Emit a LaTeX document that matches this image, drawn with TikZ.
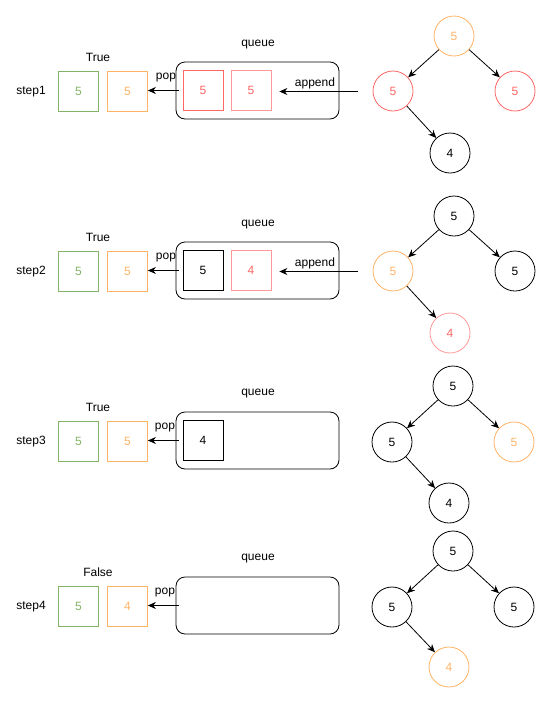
\documentclass[tikz,border=0pt]{standalone}
\usepackage{fontspec}
\setmainfont{Liberation Sans}
\usetikzlibrary{arrows.meta}
\definecolor{q-green}{HTML}{82B366}
\definecolor{q-orange}{HTML}{FFB366}
\definecolor{q-red}{HTML}{FF6666}
\definecolor{q-pink}{HTML}{FF9999}
\tikzset{
  cell/.style={draw, minimum size=40pt, inner sep=0pt, line width=0.8pt},
  treenode/.style={circle, draw, minimum size=40pt, inner sep=0pt, line width=0.8pt},
  queuebox/.style={draw, rounded corners=9pt, minimum width=163pt, minimum height=57pt, line width=0.8pt},
  link/.style={->, line width=0.8pt}
}
\begin{document}
\begin{tikzpicture}[x=1pt, y=-1pt, >={Stealth[length=8pt,width=7pt]}, font=\fontsize{12}{14}\selectfont]
        \useasboundingbox (0,0) rectangle (545,702);
        % step 1
        \node (s1) at (31,92) {step1};
        \node (t1) at (98,57) {True};
        \node[cell, draw=q-green, text=q-green] (g1) at (78.5,91.5) {5};
        \node[cell, draw=q-orange, text=q-orange] (o1) at (127.5,91.5) {5};
        \node (ql1) at (258,45) {queue};
        \node[queuebox] (q1) at (257.5,90.5) {};
        \node[cell, draw=q-red, text=q-red] (q1a) at (203,90.5) {5};
        \node[cell, draw=q-pink, text=q-red] (q1b) at (251,90.5) {5};
        \draw[link] ([xshift=3pt]q1.west) -- (q1.west -| o1.east);
        \node (p1) at (166,78) {pop};
        \coordinate (ap1) at (358,91.5);
        \draw[link] (ap1) -- ([xshift=8pt]q1b.east |- ap1);
        \node (al1) at (315,83) {append};
        \node[treenode, draw=q-orange, text=q-orange] (r1) at (454,36) {5};
        \node[treenode, draw=q-red, text=q-red] (l1) at (393,91) {5};
        \node[treenode, draw=q-red, text=q-red] (rr1) at (515,91) {5};
        \node[treenode] (b1) at (450,153) {4};
        \draw[link] (r1) -- (l1);
        \draw[link] (r1) -- (rr1);
        \draw[link] (l1) -- (b1);
        % step 2
        \node (s2) at (31,272) {step2};
        \node (t2) at (98,237) {True};
        \node[cell, draw=q-green, text=q-green] (g2) at (78.5,271.5) {5};
        \node[cell, draw=q-orange, text=q-orange] (o2) at (127.5,271.5) {5};
        \node (ql2) at (258,225) {queue};
        \node[queuebox] (q2) at (257.5,270.5) {};
        \node[cell] (q2a) at (203,270.5) {5};
        \node[cell, draw=q-pink, text=q-red] (q2b) at (251,270.5) {4};
        \draw[link] ([xshift=3pt]q2.west) -- (q2.west -| o2.east);
        \node (p2) at (166,258) {pop};
        \coordinate (ap2) at (358,271.5);
        \draw[link] (ap2) -- ([xshift=8pt]q2b.east |- ap2);
        \node (al2) at (315,263) {append};
        \node[treenode] (r2) at (454,216) {5};
        \node[treenode, draw=q-orange, text=q-orange] (l2) at (393,271) {5};
        \node[treenode] (rr2) at (515,271) {5};
        \node[treenode, draw=q-pink, text=q-red] (b2) at (450,333) {4};
        \draw[link] (r2) -- (l2);
        \draw[link] (r2) -- (rr2);
        \draw[link] (l2) -- (b2);
        % step 3
        \node (s3) at (31,442) {step3};
        \node (t3) at (98,407) {True};
        \node[cell, draw=q-green, text=q-green] (g3) at (78.5,441.5) {5};
        \node[cell, draw=q-orange, text=q-orange] (o3) at (127.5,441.5) {5};
        \node (ql3) at (258,394) {queue};
        \node[queuebox] (q3) at (257.5,440.5) {};
        \node[cell] (q3a) at (203,440.5) {4};
        \draw[link] ([xshift=3pt]q3.west) -- (q3.west -| o3.east);
        \node (p3) at (165,428) {pop};
        \node[treenode] (r3) at (453,386) {5};
        \node[treenode] (l3) at (392,442) {5};
        \node[treenode, draw=q-orange, text=q-orange] (rr3) at (514,442) {5};
        \node[treenode] (b3) at (449,503) {4};
        \draw[link] (r3) -- (l3);
        \draw[link] (r3) -- (rr3);
        \draw[link] (l3) -- (b3);
        % step 4
        \node (s4) at (31,607) {step4};
        \node (t4) at (98,572) {False};
        \node[cell, draw=q-green, text=q-green] (g4) at (78.5,606.5) {5};
        \node[cell, draw=q-orange, text=q-orange] (o4) at (127.5,606.5) {4};
        \node (ql4) at (258,559) {queue};
        \node[queuebox] (q4) at (257.5,605.5) {};
        \draw[link] ([xshift=3pt]q4.west) -- (q4.west -| o4.east);
        \node (p4) at (165,593) {pop};
        \node[treenode] (r4) at (453,551) {5};
        \node[treenode] (l4) at (392,607) {5};
        \node[treenode] (rr4) at (514,607) {5};
        \node[treenode, draw=q-orange, text=q-orange] (b4) at (449,667) {4};
        \draw[link] (r4) -- (l4);
        \draw[link] (r4) -- (rr4);
        \draw[link] (l4) -- (b4);
\end{tikzpicture}
\end{document}
